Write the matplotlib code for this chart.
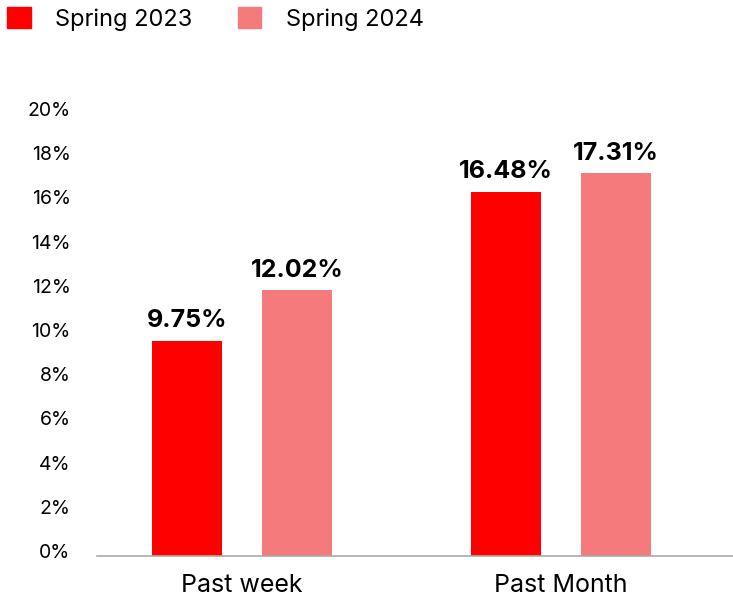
import matplotlib.pyplot as plt
from matplotlib.patches import Patch
import matplotlib.transforms as mtransforms
import numpy as np

# chart data
categories = ["Past week", "Past Month"]
series_names = ["Spring 2023", "Spring 2024"]
spring_2023 = [9.75, 16.48]
spring_2024 = [12.02, 17.31]
y_ticks = [0, 2, 4, 6, 8, 10, 12, 14, 16, 18, 20]

red = "#FF0000"
pink = "#F47A7C"

plt.rcParams["font.family"] = ["Inter", "DejaVu Sans"]

fig = plt.figure(figsize=(7.33, 5.98), dpi=100)
# axes placed so that 0% sits on the baseline and 20% near the top tick
ax = fig.add_axes([97 / 733, 1 - 556 / 598, 1 - 97 / 733, (556 - 114) / 598])

x = np.arange(len(categories))
w = 0.22
off = 0.173
b1 = ax.bar(x - off, spring_2023, w, color=red)
b2 = ax.bar(x + off, spring_2024, w, color=pink)

for bars, vals in ((b1, spring_2023), (b2, spring_2024)):
    for bar, v in zip(bars, vals):
        ax.annotate(f"{v:.2f}%", (bar.get_x() + bar.get_width() / 2, v),
                    xytext=(0, 6), textcoords="offset points",
                    ha="center", va="bottom", fontsize=18, fontweight="bold",
                    color="black")

ax.set_xlim(-0.455, 1.54)
ax.set_ylim(0, 20)
ax.set_yticks(y_ticks)
ax.set_yticklabels([f"{t}%" for t in y_ticks], fontsize=14)
ax.set_xticks(x)
ax.set_xticklabels(categories, fontsize=18)

ax.tick_params(axis="y", length=0, pad=19)
ax.tick_params(axis="x", length=0, pad=13)
for lbl in ax.get_yticklabels():
    lbl.set_transform(lbl.get_transform() + mtransforms.ScaledTranslation(0, 5 / 100, fig.dpi_scale_trans))

for s in ("top", "right", "left"):
    ax.spines[s].set_visible(False)
ax.spines["bottom"].set_color("#AAAAAA")
ax.spines["bottom"].set_linewidth(1.2)

handles = [Patch(color=red), Patch(color=pink)]
fig.legend(handles, series_names, loc="upper left", bbox_to_anchor=(0.0, 1.0),
           ncol=2, frameon=False, fontsize=17, handlelength=1.0, handleheight=1.0,
           handletextpad=1.05, columnspacing=1.9, borderaxespad=0.3, borderpad=0.0)

fig.savefig("out.png", dpi=100)
